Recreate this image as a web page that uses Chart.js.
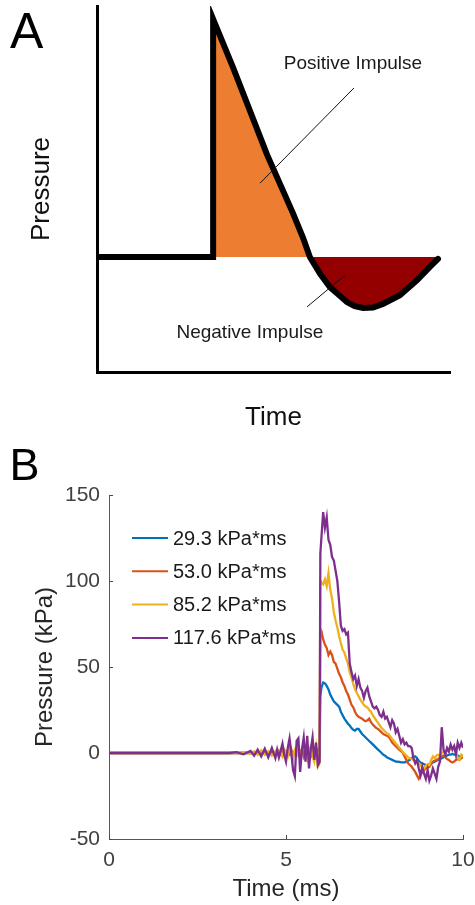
<!DOCTYPE html>
<html><head><meta charset="utf-8">
<script src="https://cdn.jsdelivr.net/npm/chart.js@4.4.1/dist/chart.umd.min.js"></script>
<style>
html,body{margin:0;padding:0;background:#fff;width:475px;height:905px;overflow:hidden;}
canvas{position:absolute;left:0;}
#ca{top:0px}
#cb{top:440px}
</style></head><body>
<canvas id="ca" width="475" height="440"></canvas>
<canvas id="cb" width="475" height="465"></canvas>
<script>
// ---------- Panel A (schematic, arbitrary units) ----------
const curveAX = [0, 32.9, 32.9, 38.5, 48.2, 55.5, 58.4, 60.3, 63.2, 66.0, 68.8, 70.8, 73.0, 75.4, 78.2, 81.0, 85.8, 90.7, 94.3, 96.6];
const curveAY = [31.4, 31.4, 96.4, 83.3, 59.3, 43.4, 36.6, 31.4, 26.8, 23.2, 20.8, 19.1, 18.0, 17.5, 17.6, 18.6, 21.0, 25.1, 28.7, 30.9];
const baselineA = 31.4;
const posLeaderX = [72.8, 46.2];
const posLeaderY = [77.6, 51.6];
const negLeaderX = [70.3, 59.5];
const negLeaderY = [26.5, 17.8];
const annotText = ['Positive Impulse', 'Negative Impulse'];
const annotX = [72.5, 43.3];
const annotY = [84.2, 10.7];

// ---------- Panel B (measured traces) ----------
const timeB = [0, 0.5, 1, 1.5, 2, 2.5, 3, 3.2, 3.4,
  3.6, 3.8, 4.0, 4.1, 4.2, 4.3, 4.4, 4.5, 4.6, 4.7,
  4.75, 4.8, 4.85, 4.9, 4.95, 5.0, 5.05, 5.1, 5.15, 5.2,
  5.25, 5.3, 5.35, 5.4, 5.45, 5.5, 5.55, 5.6, 5.65, 5.7,
  5.75, 5.8, 5.85, 5.9, 5.95, 5.97,
  6.00, 6.05, 6.10, 6.15, 6.20, 6.25, 6.30, 6.35, 6.40, 6.45,
  6.50, 6.55, 6.60, 6.65, 6.70, 6.75, 6.80, 6.85, 6.90, 6.95,
  7.00, 7.05, 7.10, 7.15, 7.20, 7.25, 7.30, 7.35, 7.40, 7.45,
  7.50, 7.55, 7.60, 7.65, 7.70, 7.75, 7.80, 7.85, 7.90, 7.95,
  8.00, 8.05, 8.10, 8.15, 8.20, 8.25, 8.30, 8.35, 8.40, 8.45,
  8.50, 8.55, 8.60, 8.65, 8.70, 8.75, 8.80, 8.85, 8.90, 8.95,
  9.00, 9.05, 9.10, 9.15, 9.20, 9.25, 9.30, 9.35, 9.40, 9.45,
  9.50, 9.55, 9.60, 9.65, 9.70, 9.75, 9.80, 9.85, 9.90, 9.95,
  10.00];

const p29 = [0, 0, 0, 0, 0, 0, 0, 0, 0,
  0, 0, 0, 0.3, -0.3, 0.3, -0.3, 0.5, -0.5, 0.5,
  0, 0.5, -0.5, 0.5, 0, 0.8, -0.5, 0.5, 1, 0,
  0.5, 1.5, 0, 1, 2, 0.5, 1.5, 2, 0.5, 2,
  1, 2.5, 1, 2, 1, 33,
  38, 41, 40.5, 39, 37, 34, 32, 30, 29, 28,
  27, 24, 22, 20, 18.5, 17, 16, 14.5, 13.5, 13,
  14, 14, 12.5, 11, 10, 9, 8, 7, 6, 5,
  4, 3, 2, 1, 0, -1, -1.5, -2.5, -3, -3.5,
  -4, -4.5, -5, -5, -5.2, -5.5, -5.5, -5.5, -5, -4.5,
  -4, -3, -2, -2, -3, -4.5, -5.5, -6, -6.5, -7,
  -7, -6.5, -6, -5.5, -5, -4.5, -4, -3.5, -3, -2.5,
  -2, -1.5, -1, -1, -0.5, -1, -1, -1.5, -2, -1.5,
  -1.5];

const p53 = [0, 0, 0, 0, 0, 0, 0, 0, 0,
  0, 0, 0.5, -0.5, 0.5, -0.5, 1, -1, 1, -1,
  1, 0, -1, 1, -1, 1, 0, -1, 2, -1,
  1, 2, -1, 0, 2, -2, 1, 3, -1, -2,
  2, -3, 0, -3, -2, 72,
  71, 66, 63, 61, 57, 59, 57, 53, 52, 49,
  46, 44, 41, 39, 36, 34, 31, 28, 26.5, 24,
  22, 21, 20.5, 20, 19, 18.5, 19, 20, 18, 16.5,
  15.5, 14.5, 14, 13, 12, 11, 10.5, 10, 9.5, 8,
  6, 5, 4, 3, 2, 1, 0, -2, -4, -6,
  -7, -8, -9.5, -11, -13, -15, -13, -11, -10, -9,
  -8.5, -8, -6.5, -5, -4.5, -4, -3.5, -2.5, -2, -1.5,
  -2.5, -3.5, -4, -5, -5.5, -5, -4, -3.5, -4, -3,
  -2.5];

const p85 = [0, 0, 0, 0, 0, 0, 0, 0, 0,
  0, 0.5, -0.5, 1, -1, 1.5, -1, 1, -1.5, 1,
  -1, 1.5, 0, -2, 2, 0, -2, 3, 1, -3,
  2, 4, -2, -3, 3, 4, -1, -4, 2, 4,
  -2, -5, 3, -8, -6, 100,
  99, 98, 101, 97, 104.5, 95, 90, 82, 77, 73,
  68, 64, 60, 58.5, 55, 52, 47, 44, 40, 37,
  35, 33, 31, 29.5, 28, 27, 26.5, 25, 24, 22,
  20.5, 19, 17.5, 16, 14.5, 13.5, 12.5, 11.5, 11, 9.5,
  8, 7, 5.5, 4.5, 3, 2, 0.5, -0.5, -1.5, -2.5,
  -3, -3.5, -4, -4.5, -5, -6, -7, -8.5, -9, -7.5,
  -6.5, -7, -4, -2, -3, -1.5, -1, -2, 0, 1,
  0.5, 2, 1, 3, 2.5, 4, 1, -3, -4, -1,
  -2];

const p117 = [0, 0, 0, 0, 0, 0, 0, 0, 0,
  0.5, -0.8, 1.2, -1.5, 2, -2, 2.5, -2.5, 3, -3,
  2, -2.5, 1.5, 5.5, -1, -5, 3, 8.5, 0, -10,
  -13.5, 7, 8.5, -11, 2, 9, -5, 10, -9, 2,
  9, -4, 6, -7, -5, 116,
  125, 140, 131, 137, 124, 121, 114, 112, 106, 100,
  88, 74, 71, 72, 69, 70, 52, 47, 43, 45,
  39, 43, 38, 36, 32, 36, 38, 33, 30, 27,
  26, 27, 25, 22, 21, 24, 20, 21, 18, 15,
  19, 17, 12, 14, 10, 6, 8, 5, 6, 4,
  4, 3, -3, -6, -4, -9, -13, -8, -12, -15,
  -10, -16, -13, -9, -12, -15, -8, -5, 15, 2,
  -1, 3, 1, 5, 2, 4, -1, 6, 3, 6,
  3];

const seriesB = [p29, p53, p85, p117];
const labelsB = ['29.3 kPa*ms', '53.0 kPa*ms', '85.2 kPa*ms', '117.6 kPa*ms'];
const colorsB = ['#0072BD', '#D95319', '#EDB120', '#7E2F8E'];
const yTicksB = [-50, 0, 50, 100, 150];
const xTicksB = [0, 5, 10];

const FONT = "'Liberation Sans', Arial, Helvetica, sans-serif";
Chart.defaults.font.family = FONT;

function pts(xs, ys) { return xs.map((x, i) => ({x: x, y: ys[i]})); }

// ---- Chart A ----
const annotPluginA = {
  id: 'annotA',
  afterDraw(chart) {
    const ctx = chart.ctx, xs = chart.scales.x, ys = chart.scales.y;
    ctx.save();
    ctx.fillStyle = '#1a1a1a';
    ctx.font = '19px ' + FONT;
    ctx.textAlign = 'center';
    ctx.textBaseline = 'middle';
    annotText.forEach((t, i) => ctx.fillText(t, xs.getPixelForValue(annotX[i]), ys.getPixelForValue(annotY[i])));
    ctx.fillStyle = '#000';
    ctx.font = '50px ' + FONT;
    ctx.textAlign = 'left';
    ctx.textBaseline = 'alphabetic';
    ctx.fillText('A', 10, 48);
    ctx.restore();
  }
};

new Chart(document.getElementById('ca'), {
  type: 'line',
  data: {
    datasets: [
      {data: pts(curveAX, curveAY), borderColor: '#000', borderWidth: 6, pointRadius: 0, tension: 0,
       borderCapStyle: 'round',
       fill: {target: {value: baselineA}, above: '#ED7D31', below: '#940000'}, order: 2},
      {data: pts(posLeaderX, posLeaderY), borderColor: '#111', borderWidth: 1, pointRadius: 0, fill: false, order: 0},
      {data: pts(negLeaderX, negLeaderY), borderColor: '#111', borderWidth: 1, pointRadius: 0, fill: false, order: 0}
    ]
  },
  options: {
    responsive: false, animation: false, devicePixelRatio: 1,
    layout: {padding: {left: 0, top: 6, right: 25, bottom: 0}},
    plugins: {legend: {display: false}, tooltip: {enabled: false}},
    scales: {
      x: {type: 'linear', min: 0, max: 100, grid: {display: false}, ticks: {display: false},
          border: {display: true, color: '#000', width: 3},
          title: {display: true, text: 'Time', color: '#111', font: {family: FONT, size: 26, lineHeight: 1.2}, padding: {top: 0, bottom: 7}},
          afterFit(s) { s.height = 68; }},
      y: {type: 'linear', min: 0, max: 100, grid: {display: false}, ticks: {display: false},
          border: {display: true, color: '#000', width: 3},
          title: {display: true, text: 'Pressure', color: '#111', font: {family: FONT, size: 26, lineHeight: 1.2}, padding: {top: 26, bottom: 0}},
          afterFit(s) { s.width = 97; }}
    }
  },
  plugins: [annotPluginA]
});

// ---- Chart B ----
const decorPluginB = {
  id: 'decorB',
  afterDraw(chart) {
    const ctx = chart.ctx, xs = chart.scales.x, ys = chart.scales.y, a = chart.chartArea;
    ctx.save();
    // inward tick marks
    ctx.strokeStyle = '#4a4a4a';
    ctx.lineWidth = 1;
    ctx.beginPath();
    xTicksB.forEach(v => { const px = Math.round(xs.getPixelForValue(v)) + 0.5; ctx.moveTo(px, a.bottom); ctx.lineTo(px, a.bottom - 4); });
    yTicksB.forEach(v => { const py = Math.round(ys.getPixelForValue(v)) + 0.5; ctx.moveTo(a.left, py); ctx.lineTo(a.left + 4, py); });
    ctx.stroke();
    // legend
    ctx.font = '20px ' + FONT;
    ctx.textAlign = 'left';
    ctx.textBaseline = 'middle';
    labelsB.forEach((lab, i) => {
      const y = a.top + 43 + i * 33.3;
      ctx.strokeStyle = colorsB[i];
      ctx.lineWidth = 2;
      ctx.beginPath();
      ctx.moveTo(a.left + 23, y); ctx.lineTo(a.left + 59, y);
      ctx.stroke();
      ctx.fillStyle = '#1a1a1a';
      ctx.fillText(lab, a.left + 64, y + 1);
    });
    // panel letter
    ctx.fillStyle = '#000';
    ctx.font = '45px ' + FONT;
    ctx.textBaseline = 'alphabetic';
    ctx.fillText('B', 9.5, 40);
    ctx.restore();
  }
};

new Chart(document.getElementById('cb'), {
  type: 'line',
  data: {
    datasets: seriesB.map((s, i) => ({
      label: labelsB[i], data: pts(timeB, s), borderColor: colorsB[i], borderWidth: 2.3,
      pointRadius: 0, tension: 0, fill: false, order: 4 - i
    }))
  },
  options: {
    responsive: false, animation: false, devicePixelRatio: 1,
    layout: {padding: {left: 0, top: 55, right: 12, bottom: 0}},
    plugins: {legend: {display: false}, tooltip: {enabled: false}},
    scales: {
      x: {type: 'linear', min: 0, max: 10, grid: {display: false, drawTicks: false},
          afterBuildTicks(s) { s.ticks = xTicksB.map(v => ({value: v})); },
          ticks: {color: '#404040', font: {family: FONT, size: 21, lineHeight: 1.2}, padding: 9, maxRotation: 0},
          border: {display: true, color: '#555', width: 1},
          title: {display: true, text: 'Time (ms)', color: '#262626', font: {family: FONT, size: 24, lineHeight: 1.2}, padding: {top: 0, bottom: 1.6}},
          afterFit(s) { s.height = 66; s.paddingLeft = 0; s.paddingRight = 0; }},
      y: {type: 'linear', min: -50, max: 150, grid: {display: false, drawTicks: false},
          afterBuildTicks(s) { s.ticks = yTicksB.map(v => ({value: v})); },
          ticks: {color: '#404040', font: {family: FONT, size: 21, lineHeight: 1.2}, padding: 9},
          border: {display: true, color: '#555', width: 1},
          title: {display: true, text: 'Pressure (kPa)', color: '#262626', font: {family: FONT, size: 24, lineHeight: 1.2}, padding: {top: 30.6, bottom: 0}},
          afterFit(s) { s.width = 109; s.paddingTop = 0; s.paddingBottom = 0; }}
    }
  },
  plugins: [decorPluginB]
});
</script>
</body></html>
